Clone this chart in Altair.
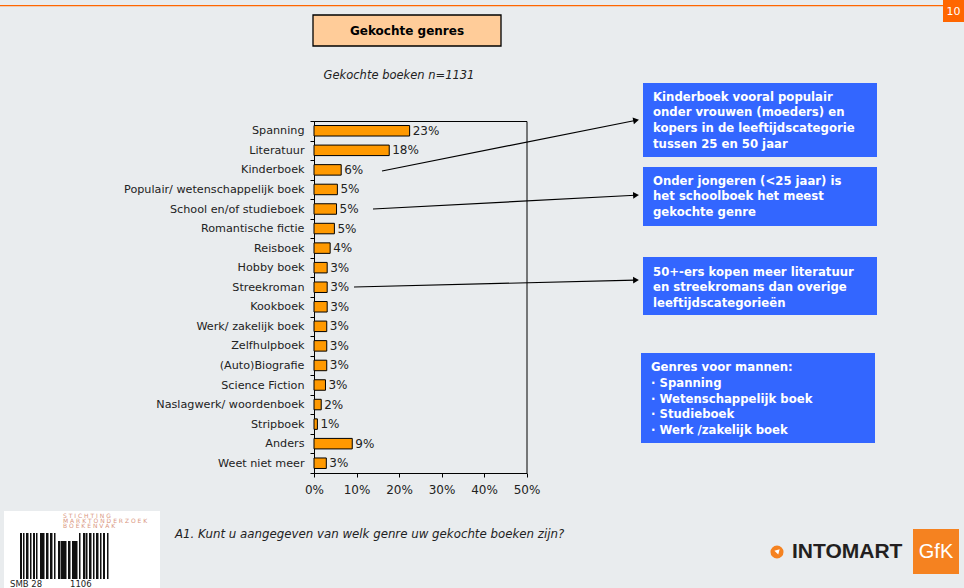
import math
import altair as alt
import pandas as pd

# ---------------- data ----------------
genres = ["Spanning", "Literatuur", "Kinderboek", "Populair/ wetenschappelijk boek",
          "School en/of studieboek", "Romantische fictie", "Reisboek", "Hobby boek ",
          "Streekroman", "Kookboek", "Werk/ zakelijk boek", "Zelfhulpboek",
          "(Auto)Biografie", "Science Fiction", "Naslagwerk/ woordenboek", "Stripboek",
          "Anders", "Weet niet meer"]
values = [22.5, 17.7, 6.4, 5.5, 5.3, 4.8, 3.8, 3.1, 3.1, 3.1, 3.0, 3.0, 3.0, 2.7, 1.7, 0.8, 9.0, 2.9]
labels = ["23%", "18%", "6%", "5%", "5%", "5%", "4%", "3%", "3%", "3%", "3%", "3%", "3%",
          "3%", "2%", "1%", "9%", "3%"]
x_ticks = [0, 10, 20, 30, 40, 50]

title_text = "Gekochte genres"
subtitle_text = "Gekochte boeken n=1131"
question_text = "A1. Kunt u aangegeven van welk genre uw gekochte boeken zijn?"
callout_1 = ["Kinderboek vooral populair", "onder vrouwen (moeders) en",
             "kopers in de leeftijdscategorie", "tussen 25 en 50 jaar"]
callout_2 = ["Onder jongeren (<25 jaar) is", "het schoolboek het meest", "gekochte genre"]
callout_3 = ["50+-ers kopen meer literatuur", "en streekromans dan overige",
             "leeftijdscategorieën"]
callout_4 = ["Genres voor mannen:", "· Spanning", "· Wetenschappelijk boek",
             "· Studieboek", "· Werk /zakelijk boek"]
page_number = "10"

# ---------------- layout ----------------
W, H = 964, 588
OX, OY = 314, 121          # plot origin (pixels)
PW, PH = 212.5, 352        # plot size
FONT = "DejaVu Sans"
BG = "#E9ECEE"
BLUE = "#3366FF"
ORANGE = "#FF9900"

df = pd.DataFrame({"genre": genres, "value": values, "label": labels})
one = pd.DataFrame({"k": [0]})


def rect(x1, y1, x2, y2, **kw):
    return alt.Chart(one).mark_rect(**kw).encode(
        x=alt.value(x1 - OX), x2=alt.value(x2 - OX),
        y=alt.value(y1 - OY), y2=alt.value(y2 - OY))


def text(x, y, t, **kw):
    kw.setdefault("font", FONT)
    return alt.Chart(one).mark_text(text=t, **kw).encode(
        x=alt.value(x - OX), y=alt.value(y - OY))


def arrow(x1, y1, x2, y2):
    ang = math.degrees(math.atan2(y2 - y1, x2 - x1)) % 360
    L = math.hypot(x2 - x1, y2 - y1)
    ux, uy = (x2 - x1) / L, (y2 - y1) / L
    line = alt.Chart(one).mark_rule(color="black", strokeWidth=1.2).encode(
        x=alt.value(x1 - OX), x2=alt.value(x2 - 5 * ux - OX),
        y=alt.value(y1 - OY), y2=alt.value(y2 - 5 * uy - OY))
    head = alt.Chart(one).mark_point(shape="triangle-right", filled=True, color="black",
                                     size=45, angle=ang, opacity=1).encode(
        x=alt.value(x2 - 4 * ux - OX), y=alt.value(y2 - 4 * uy - OY))
    return [line, head]


layers = []

# top line and page number
layers.append(rect(0, 5, 943, 6.2, color="#FF6600"))
layers.append(rect(943, 0, 964, 22, color="#FF6600"))
layers.append(text(953.5, 11.5, page_number, color="white", fontSize=11,
                   align="center", baseline="middle"))

# title box
layers.append(rect(313, 15, 501, 46, fill="#FFCC99", stroke="black", strokeWidth=1.3))
layers.append(text(407, 31, title_text, fontSize=12, fontWeight="bold", color="black",
                   align="center", baseline="middle"))
layers.append(text(399, 76, subtitle_text, fontSize=11.5, fontStyle="italic", color="#222",
                   align="center", baseline="middle"))

# callout boxes (text y = centre of first line)
boxes = [
    (643, 83, 877, 157, 653, 96.5, callout_1),
    (643, 167, 877, 226, 653, 180.5, callout_2),
    (643, 257, 877, 315, 653, 271.5, callout_3),
    (641, 353, 875, 443, 651, 367, callout_4),
]
for x1, y1, x2, y2, tx, ty, lines in boxes:
    layers.append(rect(x1, y1, x2, y2, color=BLUE))
    layers.append(text(tx, ty, lines, color="white", fontSize=11.7, fontWeight="bold",
                       align="left", baseline="middle", lineHeight=15.8))

# arrows
layers += arrow(382, 171, 640, 119.5)
layers += arrow(373, 209, 640, 195)
layers += arrow(354, 287, 640, 280)

# question
layers.append(text(175, 534, question_text, fontSize=11.8, fontStyle="italic", color="#222",
                   align="left", baseline="middle"))

# SMB logo
layers.append(rect(4, 511, 160, 588, color="white"))
for i, line in enumerate(["S T I C H T I N G", "M A R K T O N D E R Z O E K", "B O E K E N V A K"]):
    layers.append(text(63, 515.5 + i * 5.3, line, fontSize=6, color="#D9957E",
                       align="left", baseline="middle"))
bar_x = [20, 23, 26, 30, 33, 36, 40, 43, 46, 50, 54, 58, 61, 64, 68, 72, 75, 79, 83, 86,
         89, 93, 96, 100, 103, 107]
bar_w = [2, 1.5, 2.5, 1.5, 2, 1.5, 3, 1.5, 2.5, 2.5, 1.5, 2.5, 3, 2.5, 2.5, 3, 2.5, 1.5,
         2.5, 1.5, 2.5, 1.5, 2.5, 1.5, 2, 1.5]
for bx, bw in zip(bar_x, bar_w):
    top = 541 if 58 <= bx <= 75 else 533
    layers.append(rect(bx, top, bx + bw, 579, color="#111"))
layers.append(text(10, 584, "SMB 28", fontSize=8.5, color="#222", align="left", baseline="middle"))
layers.append(text(70, 584, "1106", fontSize=8.5, color="#222", align="left", baseline="middle"))

# Intomart GfK logo
layers.append(alt.Chart(one).mark_point(shape="circle", filled=True, color="#F58220",
                                        size=170, opacity=1).encode(
    x=alt.value(777 - OX), y=alt.value(552 - OY)))
layers.append(alt.Chart(one).mark_point(shape="triangle-right", filled=True, color="white",
                                        size=30, angle=315, opacity=1).encode(
    x=alt.value(778 - OX), y=alt.value(551 - OY)))
layers.append(text(792, 552, "INTOMART", fontSize=21, fontWeight="bold", color="#231F20",
                   align="left", baseline="middle", font="Liberation Sans"))
layers.append(rect(913, 529, 959, 574, color="#F58220"))
layers.append(text(936, 552, "GfK", fontSize=20, color="white", align="center",
                   baseline="middle", font="Liberation Sans"))

# ---------------- bar chart ----------------
y_enc = alt.Y("genre:N", sort=genres, title=None,
              scale=alt.Scale(paddingInner=0, paddingOuter=0),
              axis=alt.Axis(domain=True, domainColor="black", ticks=True, tickBand="extent",
                            tickSize=4, tickColor="black", labelFont=FONT, labelFontSize=11.2,
                            labelColor="#222", labelPadding=6, grid=False, labelLimit=400))
x_enc = alt.X("value:Q", title=None, scale=alt.Scale(domain=[0, 50], nice=False),
              axis=alt.Axis(values=x_ticks, labelExpr="datum.value + '%'", tickSize=4,
                            tickColor="black", domainColor="black", labelFont=FONT,
                            labelFontSize=12, labelColor="#222", labelPadding=7, grid=False,
                            labelFlush=False, labelOverlap=False))

bars = alt.Chart(df).mark_bar(color=ORANGE, stroke="black", strokeWidth=1, size=10.5).encode(
    x=x_enc, y=y_enc)
bar_labels = alt.Chart(df).mark_text(align="left", baseline="middle", dx=3, font=FONT,
                                     fontSize=12, color="#222").encode(
    x="value:Q", y=alt.Y("genre:N", sort=genres), text="label:N")

layers += [bars, bar_labels]

chart = alt.layer(*layers).properties(
    width=PW, height=PH,
    padding={"left": OX, "top": OY, "right": W - OX - PW, "bottom": H - OY - PH},
    autosize=alt.AutoSizeParams(type="none"),
    background=BG,
).configure_view(stroke="black", strokeWidth=1)

chart.save("out.html", embed_options={"renderer": "svg", "actions": False})
